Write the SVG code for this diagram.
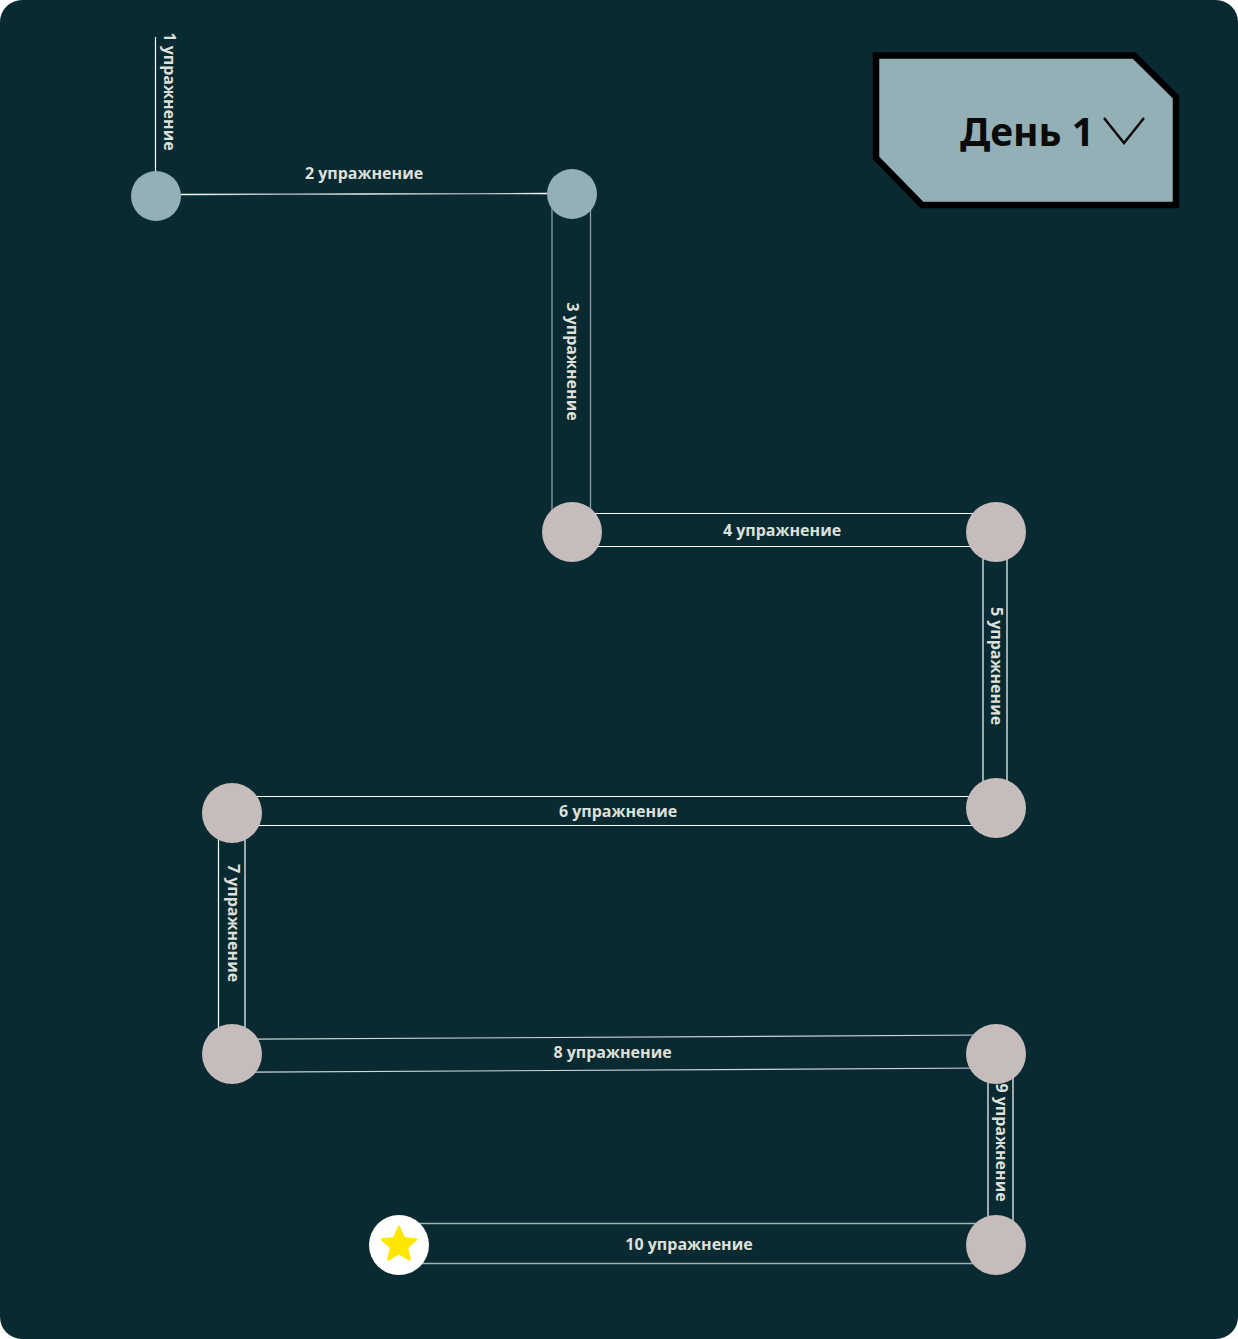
<svg xmlns="http://www.w3.org/2000/svg" width="1238" height="1339" viewBox="0 0 1238 1339">
  <style>
    .lbl { font-family: "Open Sans", "Noto Sans", sans-serif; font-size: 16px; font-weight: 700; fill: #dfe0da; text-anchor: middle; }
    .w { stroke: #ffffff; stroke-width: 1.2; fill: none; }
    .g { stroke: #8ea0a2; stroke-width: 1.3; fill: none; }
    .m { stroke: #cfd6d6; stroke-width: 1.2; fill: none; }
    .blue { fill: #93b0b7; }
    .taupe { fill: #c5bcbb; }
  </style>
  <defs>
    <linearGradient id="fade2" x1="0" y1="0" x2="1" y2="0">
      <stop offset="0" stop-color="#ffffff"/>
      <stop offset="0.3" stop-color="#9aacad"/>
      <stop offset="0.5" stop-color="#ffffff"/>
      <stop offset="0.8" stop-color="#9aacad"/>
      <stop offset="1" stop-color="#ffffff"/>
    </linearGradient>
  </defs>

  <!-- canvas -->
  <rect x="0" y="0" width="1238" height="1339" fill="#ffffff"/>
  <rect x="0" y="0" width="1238" height="1339" rx="22" fill="#0a2a32"/>

  <!-- connectors -->
  <g id="connectors">
    <line class="w" x1="155.5" y1="37" x2="155.5" y2="180"/>
    <line x1="181" y1="194.5" x2="547" y2="193.5" stroke="url(#fade2)" stroke-width="1.4"/>
    <line class="g" x1="552" y1="200" x2="552" y2="530"/>
    <line class="g" x1="590.5" y1="200" x2="590.5" y2="530"/>
    <line class="w" x1="580" y1="513.5" x2="985" y2="513.5"/>
    <line class="w" x1="580" y1="546.5" x2="985" y2="546.5"/>
    <line class="w" x1="983" y1="540" x2="983" y2="800"/>
    <line class="w" x1="1007" y1="540" x2="1007" y2="800"/>
    <line class="w" x1="240" y1="796.5" x2="985" y2="796.5"/>
    <line class="w" x1="240" y1="825.5" x2="985" y2="825.5"/>
    <line class="w" x1="218.5" y1="820" x2="218.5" y2="1045"/>
    <line class="w" x1="245" y1="820" x2="245" y2="1045"/>
    <line class="m" x1="240" y1="1039.3" x2="985" y2="1035"/>
    <line class="m" x1="240" y1="1072.3" x2="985" y2="1068"/>
    <line class="w" x1="988" y1="1060" x2="988" y2="1240"/>
    <line class="w" x1="1013" y1="1060" x2="1013" y2="1240"/>
    <line stroke="#a3b1b2" stroke-width="1.4" x1="410" y1="1223.5" x2="985" y2="1223.5"/>
    <line stroke="#a3b1b2" stroke-width="1.4" x1="410" y1="1263.5" x2="985" y2="1263.5"/>

    <text class="lbl" transform="translate(164 91.5) rotate(90)">1 упражнение</text>
    <text class="lbl" x="364" y="179">2 упражнение</text>
    <text class="lbl" transform="translate(567 361.5) rotate(90)">3 упражнение</text>
    <text class="lbl" x="782" y="536">4 упражнение</text>
    <text class="lbl" transform="translate(990.5 666) rotate(90)">5 упражнение</text>
    <text class="lbl" x="618" y="817">6 упражнение</text>
    <text class="lbl" transform="translate(228 923) rotate(90)">7 упражнение</text>
    <text class="lbl" x="612.5" y="1058">8 упражнение</text>
    <text class="lbl" transform="translate(996 1142.5) rotate(90)">9 упражнение</text>
    <text class="lbl" x="689" y="1250">10 упражнение</text>
  </g>

  <!-- stops along the path -->
  <g id="node-1"><circle class="blue" cx="156" cy="196" r="25"/></g>
  <g id="node-2"><circle class="blue" cx="572" cy="194" r="25"/></g>
  <g id="node-3"><circle class="taupe" cx="572" cy="532" r="30"/></g>
  <g id="node-4"><circle class="taupe" cx="996" cy="532" r="30"/></g>
  <g id="node-5"><circle class="taupe" cx="996" cy="808" r="30"/></g>
  <g id="node-6"><circle class="taupe" cx="232" cy="813" r="30"/></g>
  <g id="node-7"><circle class="taupe" cx="232" cy="1054" r="30"/></g>
  <g id="node-8"><circle class="taupe" cx="996" cy="1054" r="30"/></g>
  <g id="node-9"><circle class="taupe" cx="996" cy="1245" r="30"/></g>
  <g id="node-finish">
    <circle cx="399" cy="1245" r="30" fill="#ffffff"/>
    <polygon points="399,1227 403.9,1238.3 416.1,1239.4 406.9,1247.5 409.6,1259.5 399,1253.2 388.4,1259.5 391.1,1247.5 381.9,1239.4 394.1,1238.3"
             fill="#ffe600" stroke="#ffe600" stroke-width="2.5" stroke-linejoin="round"/>
  </g>

  <!-- day selector -->
  <g id="day-selector">
    <polygon points="876,55.5 1134,55.5 1176,97 1176,205 922,205 876,158" fill="#93b0b7" stroke="#000000" stroke-width="6.5" stroke-linejoin="miter"/>
    <text x="960" y="146" font-family="'Noto Sans', 'Open Sans', sans-serif" font-size="39" font-weight="700" fill="#0a0a0a">День 1</text>
    <polyline points="1104,118 1124,143 1144,118" fill="none" stroke="#0a0a0a" stroke-width="2.5"/>
  </g>
</svg>
